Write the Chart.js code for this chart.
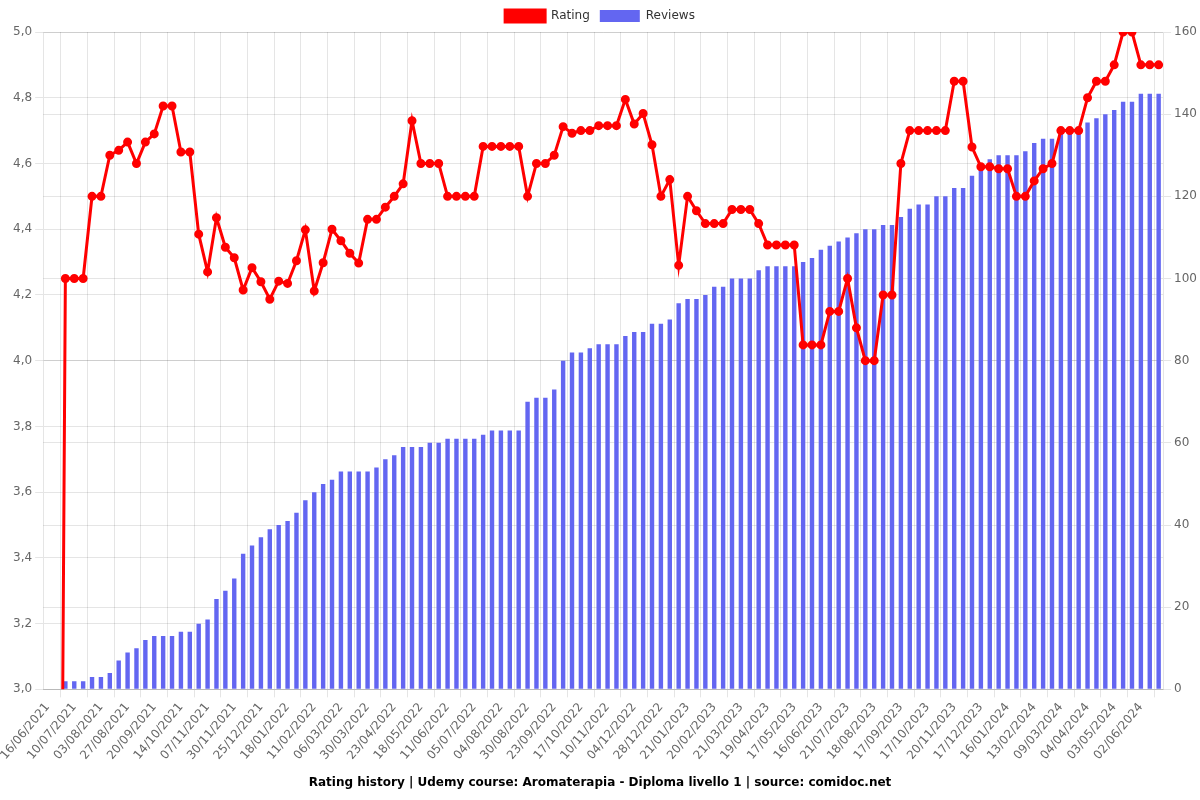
<!DOCTYPE html>
<html>
<head>
<meta charset="utf-8">
<script src="https://cdn.jsdelivr.net/npm/chart.js@4/dist/chart.umd.min.js"></script>
<style>
  body { margin: 0; background: #fff; }
</style>
</head>
<body>
<canvas id="myChart" width="1200" height="800"></canvas>
<script>
// datoer for hver måling (bare hver 3. vises på aksen)
const labels = [
  '16/06/2021', '24/06/2021', '02/07/2021', '10/07/2021', '18/07/2021', '26/07/2021',
  '03/08/2021', '11/08/2021', '19/08/2021', '27/08/2021', '04/09/2021', '12/09/2021',
  '20/09/2021', '28/09/2021', '06/10/2021', '14/10/2021', '22/10/2021', '30/10/2021',
  '07/11/2021', '15/11/2021', '22/11/2021', '30/11/2021', '08/12/2021', '16/12/2021',
  '25/12/2021', '02/01/2022', '10/01/2022', '18/01/2022', '26/01/2022', '03/02/2022',
  '11/02/2022', '19/02/2022', '27/02/2022', '06/03/2022', '14/03/2022', '22/03/2022',
  '30/03/2022', '07/04/2022', '15/04/2022', '23/04/2022', '01/05/2022', '09/05/2022',
  '18/05/2022', '26/05/2022', '03/06/2022', '11/06/2022', '19/06/2022', '27/06/2022',
  '05/07/2022', '15/07/2022', '25/07/2022', '04/08/2022', '12/08/2022', '21/08/2022',
  '30/08/2022', '07/09/2022', '15/09/2022', '23/09/2022', '01/10/2022', '09/10/2022',
  '17/10/2022', '25/10/2022', '02/11/2022', '10/11/2022', '18/11/2022', '26/11/2022',
  '04/12/2022', '12/12/2022', '20/12/2022', '28/12/2022', '05/01/2023', '13/01/2023',
  '21/01/2023', '31/01/2023', '10/02/2023', '20/02/2023', '02/03/2023', '11/03/2023',
  '21/03/2023', '31/03/2023', '09/04/2023', '19/04/2023', '28/04/2023', '08/05/2023',
  '17/05/2023', '27/05/2023', '06/06/2023', '16/06/2023', '28/06/2023', '09/07/2023',
  '21/07/2023', '30/07/2023', '08/08/2023', '18/08/2023', '28/08/2023', '07/09/2023',
  '17/09/2023', '27/09/2023', '07/10/2023', '17/10/2023', '28/10/2023', '09/11/2023',
  '20/11/2023', '29/11/2023', '08/12/2023', '17/12/2023', '27/12/2023', '06/01/2024',
  '16/01/2024', '25/01/2024', '04/02/2024', '13/02/2024', '21/02/2024', '29/02/2024',
  '09/03/2024', '17/03/2024', '26/03/2024', '04/04/2024', '13/04/2024', '23/04/2024',
  '03/05/2024', '12/05/2024', '22/05/2024', '02/06/2024', '12/06/2024', '22/06/2024'
];

// snittkarakter (venstre akse)
const rating = [
  0, 0, 4.25, 4.25, 4.25, 4.50, 4.50, 4.625, 4.64, 4.665,
  4.60, 4.665, 4.69, 4.775, 4.775, 4.635, 4.635, 4.385, 4.27, 4.435,
  4.345, 4.313, 4.215, 4.283, 4.24, 4.187, 4.242, 4.235, 4.304, 4.398,
  4.212, 4.298, 4.40, 4.365, 4.327, 4.297, 4.43, 4.43, 4.467, 4.50,
  4.538, 4.73, 4.60, 4.60, 4.60, 4.50, 4.50, 4.50, 4.50, 4.652,
  4.652, 4.652, 4.652, 4.652, 4.50, 4.60, 4.60, 4.625, 4.712, 4.692,
  4.70, 4.70, 4.715, 4.715, 4.715, 4.795, 4.72, 4.752, 4.657, 4.50,
  4.551, 4.29, 4.50, 4.456, 4.417, 4.417, 4.417, 4.46, 4.46, 4.46,
  4.417, 4.352, 4.352, 4.352, 4.352, 4.048, 4.048, 4.048, 4.15, 4.15,
  4.25, 4.10, 4.00, 4.00, 4.20, 4.20, 4.60, 4.70, 4.70, 4.70,
  4.70, 4.70, 4.85, 4.85, 4.65, 4.59, 4.59, 4.584, 4.584, 4.50,
  4.50, 4.547, 4.584, 4.60, 4.70, 4.70, 4.70, 4.80, 4.85, 4.85,
  4.90, 5.00, 5.00, 4.90, 4.90, 4.90
];

// antall anmeldelser (høyre akse)
const reviews = [
  0, 0, 2, 2, 2, 3, 3, 4, 7, 9,
  10, 12, 13, 13, 13, 14, 14, 16, 17, 22,
  24, 27, 33, 35, 37, 39, 40, 41, 43, 46,
  48, 50, 51, 53, 53, 53, 53, 54, 56, 57,
  59, 59, 59, 60, 60, 61, 61, 61, 61, 62,
  63, 63, 63, 63, 70, 71, 71, 73, 80, 82,
  82, 83, 84, 84, 84, 86, 87, 87, 89, 89,
  90, 94, 95, 95, 96, 98, 98, 100, 100, 100,
  102, 103, 103, 103, 103, 104, 105, 107, 108, 109,
  110, 111, 112, 112, 113, 113, 115, 117, 118, 118,
  120, 120, 122, 122, 125, 127, 129, 130, 130, 130,
  131, 133, 134, 134, 136, 136, 136, 138, 139, 140,
  141, 143, 143, 145, 145, 145
];

const tittel = 'Rating history | Udemy course: Aromaterapia - Diploma livello 1 | source: comidoc.net';

Chart.defaults.font.family = "'DejaVu Sans', sans-serif";
Chart.defaults.font.size = 12;
Chart.defaults.color = '#666';

// tegner grafen
function renderChart() {
    const ctx = document.getElementById('myChart').getContext('2d');
    const myChart = new Chart(ctx, {
        type: 'bar',
        data: {
            labels: labels,
            datasets: [{
                type: 'line',
                label: 'Rating',
                data: rating,
                yAxisID: 'y',
                borderColor: '#ff0000',
                backgroundColor: '#ff0000',
                borderWidth: 3,
                pointRadius: 3,
                pointHoverRadius: 4,
                tension: 0,
            }, {
                label: 'Reviews',
                data: reviews,
                yAxisID: 'y1',
                backgroundColor: 'rgba(99, 102, 241, 1)',
                borderWidth: 0,
                barPercentage: 0.62,
                categoryPercentage: 0.8,
            }]
        },
        options: {
            responsive: false,
            animation: false,
            locale: 'it-IT',
            scales: {
                y: {
                    position: 'left',
                    min: 3,
                    max: 5,
                    ticks: { stepSize: 0.2 },
                },
                y1: {
                    position: 'right',
                    min: 0,
                    max: 160,
                    ticks: { stepSize: 20 },
                },
            },
            plugins: {
                legend: {
                    position: 'top',
                    labels: { color: '#333' },
                },
                title: {
                    display: true,
                    position: 'bottom',
                    text: tittel,
                    color: '#000',
                    font: { weight: 'bold', size: 12 },
                },
                tooltip: { enabled: false },
            },
        },
    });
    return myChart;
}

renderChart();
</script>
</body>
</html>
